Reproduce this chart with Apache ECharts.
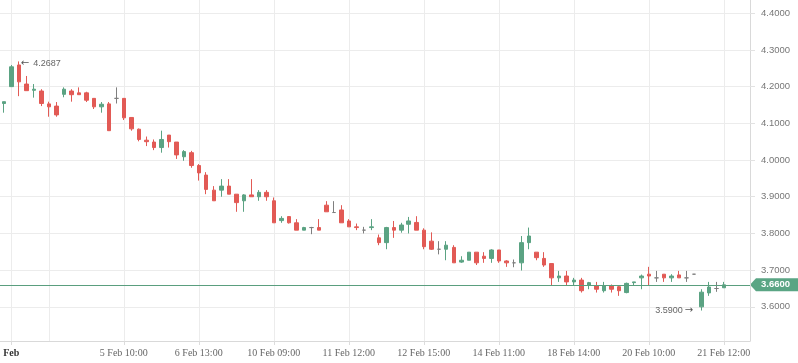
<!DOCTYPE html>
<html><head><meta charset="utf-8">
<script src="https://cdn.jsdelivr.net/npm/echarts@6/dist/echarts.min.js"></script>
<style>html,body{margin:0;padding:0;background:#fff}#c{width:798px;height:363px}</style>
</head><body><div id="c"></div><script>
// ---- data ----
const OPEN  = [4.154,4.200,4.259,4.207,4.190,4.188,4.153,4.147,4.179,4.188,4.183,4.183,4.168,4.145,4.153,4.168,4.168,4.116,4.084,4.054,4.049,4.034,4.068,4.049,4.009,4.020,3.985,3.959,3.918,3.918,3.929,3.907,3.889,3.905,3.900,3.912,3.889,3.835,3.846,3.829,3.809,3.816,3.816,3.877,3.857,3.864,3.834,3.818,3.809,3.816,3.788,3.775,3.816,3.809,3.825,3.830,3.809,3.779,3.757,3.757,3.762,3.722,3.727,3.749,3.738,3.732,3.755,3.725,3.720,3.720,3.775,3.749,3.732,3.718,3.679,3.684,3.668,3.673,3.659,3.657,3.644,3.657,3.655,3.639,3.666,3.679,3.689,3.679,3.689,3.679,3.687,3.679,3.689,3.600,3.638,3.650,3.652];
const CLOSE = [4.159,4.254,4.213,4.189,4.193,4.154,4.145,4.123,4.193,4.178,4.178,4.163,4.145,4.152,4.080,4.168,4.115,4.085,4.056,4.050,4.034,4.056,4.050,4.014,4.023,3.985,3.965,3.920,3.889,3.929,3.907,3.884,3.905,3.900,3.912,3.900,3.829,3.841,3.829,3.809,3.816,3.816,3.809,3.859,3.857,3.829,3.818,3.816,3.809,3.818,3.775,3.816,3.809,3.823,3.834,3.809,3.764,3.757,3.757,3.768,3.720,3.727,3.749,3.720,3.732,3.755,3.725,3.720,3.720,3.775,3.793,3.734,3.714,3.679,3.684,3.668,3.673,3.644,3.666,3.648,3.657,3.648,3.644,3.664,3.668,3.684,3.684,3.679,3.679,3.684,3.679,3.679,3.689,3.640,3.654,3.650,3.660];
const LOW   = [4.129,4.200,4.174,4.189,4.170,4.147,4.118,4.118,4.171,4.159,4.178,4.158,4.139,4.129,4.080,4.154,4.109,4.080,4.051,4.038,4.027,4.020,4.034,4.003,3.998,3.979,3.944,3.907,3.889,3.900,3.907,3.859,3.859,3.900,3.889,3.889,3.829,3.829,3.827,3.809,3.809,3.798,3.809,3.859,3.857,3.829,3.818,3.809,3.800,3.809,3.768,3.757,3.788,3.802,3.800,3.809,3.757,3.755,3.743,3.727,3.720,3.720,3.727,3.714,3.720,3.720,3.720,3.709,3.708,3.699,3.757,3.727,3.709,3.657,3.668,3.659,3.659,3.639,3.648,3.639,3.639,3.639,3.630,3.637,3.659,3.648,3.659,3.668,3.668,3.668,3.679,3.668,3.689,3.590,3.630,3.641,3.652];
const HIGH  = [4.159,4.259,4.2687,4.229,4.207,4.193,4.159,4.158,4.198,4.193,4.198,4.186,4.168,4.158,4.158,4.198,4.168,4.116,4.086,4.064,4.056,4.080,4.068,4.049,4.027,4.025,3.989,3.967,3.929,3.948,3.948,3.907,3.907,3.948,3.918,3.918,3.898,3.847,3.847,3.839,3.818,3.818,3.839,3.888,3.888,3.877,3.839,3.827,3.818,3.839,3.797,3.818,3.834,3.829,3.845,3.847,3.814,3.803,3.779,3.779,3.768,3.738,3.749,3.749,3.749,3.757,3.755,3.727,3.729,3.793,3.816,3.749,3.749,3.718,3.698,3.698,3.679,3.679,3.668,3.668,3.668,3.661,3.659,3.666,3.668,3.688,3.709,3.698,3.689,3.689,3.698,3.698,3.689,3.648,3.668,3.668,3.668];
const SLOT_COUNT = 100;
const X_LABEL_IDX = [1,16,26,36,46,56,66,76,86,96];
const X_LABELS = ['Feb','5 Feb 10:00','6 Feb 13:00','10 Feb 09:00','11 Feb 12:00','12 Feb 15:00','14 Feb 11:00','18 Feb 14:00','20 Feb 10:00','21 Feb 12:00'];
const X_GRID_IDX = [1,6,16,26,36,46,56,66,76,86,96];
const Y_TICKS = [3.6,3.7,3.8,3.9,4.0,4.1,4.2,4.3,4.4];
const LAST_PRICE = 3.66;
const HIGH_MARK = [2, 4.2687];
const LOW_MARK = [93, 3.59];

// ---- chart ----
const CATS = Array.from({length: SLOT_COUNT}, (_, i) => String(i));
const candles = OPEN.map((o, i) => [o, CLOSE[i], LOW[i], HIGH[i]]);
const UP = '#5ba383', DOWN = '#e25a55', DOJI = '#7f7f7f', LINE = '#5a9e7e';
const GRID = {left: 0, right: 48, top: 0, bottom: 22};
const ANN_RICH = {
  n: {fontFamily: 'Liberation Sans', fontSize: 9, color: '#666'},
  a: {fontFamily: 'DejaVu Sans', fontSize: 10, color: '#555'},
  al: {fontFamily: 'DejaVu Sans', fontSize: 10, color: '#555', padding: [0, 4, 0, 0]},
  ar: {fontFamily: 'DejaVu Sans', fontSize: 10, color: '#555', padding: [0, 0, 0, 2]}
};
const chart = echarts.init(document.getElementById('c'), null, {renderer: 'canvas'});
chart.setOption({
  animation: false,
  backgroundColor: '#fff',
  grid: GRID,
  xAxis: {
    type: 'category', data: CATS, boundaryGap: true,
    axisLine: {show: true, lineStyle: {color: '#d9d9d9'}},
    axisTick: {show: true, alignWithLabel: true, length: 4, lineStyle: {color: '#dcdcdc'},
      interval: (i) => X_LABEL_IDX.includes(i)},
    splitLine: {show: true, alignWithLabel: true, lineStyle: {color: '#ececec'},
      interval: (i) => X_GRID_IDX.includes(i)},
    axisLabel: {
      interval: (i) => X_LABEL_IDX.includes(i), margin: 7,
      fontFamily: 'Liberation Serif', fontSize: 10, color: '#666',
      formatter: (v, i) => { const k = X_LABEL_IDX.indexOf(i); if (k < 0) return ''; return k === 0 ? '{b|' + X_LABELS[k] + '}' : X_LABELS[k]; },
      rich: {b: {fontFamily: 'Liberation Serif', fontSize: 10, fontWeight: 'bold', color: '#333'}}
    }
  },
  yAxis: {
    type: 'value', position: 'right', min: 3.507, max: 4.436, scale: true,
    axisLine: {show: true, lineStyle: {color: '#d9d9d9'}},
    axisTick: {show: true, length: 5, customValues: Y_TICKS, lineStyle: {color: '#e2e2e2'}},
    splitLine: {show: true, lineStyle: {color: '#ececec'}},
    axisLabel: {customValues: Y_TICKS, margin: 11, fontFamily: 'Liberation Sans', fontSize: 9.5, color: '#777',
      formatter: (v) => v.toFixed(4)}
  },
  series: [{
    type: 'candlestick', data: candles, barWidth: 4,
    itemStyle: {color: UP, color0: DOWN, borderColor: UP, borderColor0: DOWN, borderColorDoji: DOJI, borderWidth: 1},
    markLine: {silent: true, symbol: ['none', 'none'], animation: false,
      lineStyle: {color: LINE, width: 1, type: 'solid'}, label: {show: false},
      data: [{yAxis: LAST_PRICE}]},
    markPoint: {silent: true, symbol: 'circle', symbolSize: 0, animation: false,
      label: {rich: ANN_RICH},
      data: [
        {coord: HIGH_MARK, label: {show: true, position: 'right', distance: 2, offset: [0, 2], rich: ANN_RICH,
          formatter: '{al|\u2190}{n|' + HIGH_MARK[1].toFixed(4) + '}'}},
        {coord: LOW_MARK, label: {show: true, position: 'left', distance: 8, rich: ANN_RICH,
          formatter: '{n|' + LOW_MARK[1].toFixed(4) + '}{ar|\u2192}'}}
      ]}
  }]
});
// price tag on right axis
const py = chart.convertToPixel({yAxisIndex: 0}, LAST_PRICE);
const xr = 798 - GRID.right;
chart.setOption({graphic: [
  {type: 'polygon', silent: true, shape: {points: [[xr, py], [xr + 6, py - 6.5], [798, py - 6.5], [798, py + 6.5], [xr + 6, py + 6.5]]}, style: {fill: '#5aa584'}},
  {type: 'text', silent: true, x: xr + 11, y: py, style: {text: LAST_PRICE.toFixed(4), fill: '#fff', font: 'bold 9.5px "Liberation Sans"', verticalAlign: 'middle', align: 'left'}}
]});
</script></body></html>
